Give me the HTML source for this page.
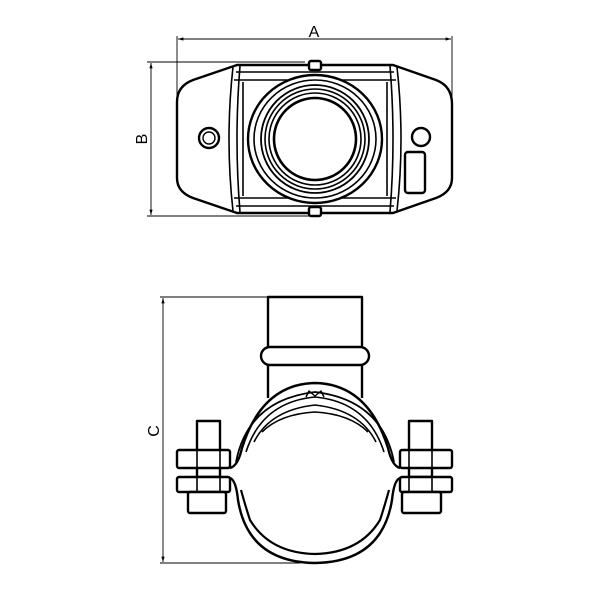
<!DOCTYPE html>
<html><head><style>html,body{margin:0;padding:0;background:#fff;}svg{display:block}</style></head>
<body>
<svg width="600" height="600" viewBox="0 0 600 600" xmlns="http://www.w3.org/2000/svg">
<defs>
<marker id="ar" viewBox="0 0 10 10" refX="10" refY="5" markerWidth="10" markerHeight="6" orient="auto-start-reverse"><path d="M0,2 L10,5 L0,8 Z" fill="#000"/></marker>
</defs>
<g fill="none" stroke="#000" stroke-width="0.9">
<line x1="177" y1="36" x2="177" y2="100"/>
<line x1="452" y1="36" x2="452" y2="100"/>
<line x1="178" y1="39" x2="451" y2="39" marker-start="url(#ar)" marker-end="url(#ar)"/>
<line x1="147" y1="62" x2="305" y2="62"/>
<line x1="147" y1="216" x2="310" y2="216"/>
<line x1="151" y1="63" x2="151" y2="215" marker-start="url(#ar)" marker-end="url(#ar)"/>
<line x1="160" y1="297" x2="268" y2="297"/>
<line x1="160" y1="563" x2="300" y2="563"/>
<line x1="163" y1="298" x2="163" y2="562" marker-start="url(#ar)" marker-end="url(#ar)"/>
</g>
<g font-family="Liberation Sans, sans-serif" font-size="16" fill="#000">
<text x="314" y="37" text-anchor="middle">A</text>
<text transform="translate(147,139) rotate(-90)" text-anchor="middle">B</text>
<text transform="translate(159,431) rotate(-90)" text-anchor="middle">C</text>
</g>

<g fill="none" stroke="#000" stroke-width="2.4" stroke-linejoin="round">
<path d="M237,65 L393,65 L436,80 Q452,86 452,104 L452,178 Q452,192 436,198 L393,213 L237,213 L193,198 Q177,192 177,178 L177,102 Q177,86 193,80 Z"/>
<path d="M233,67 Q225,139 233,211" stroke-width="1.6"/>
<path d="M240,66 Q234,139 240,212" stroke-width="1.6"/>
<path d="M397,67 Q405,139 397,211" stroke-width="1.6"/>
<path d="M390,66 Q396,139 390,212" stroke-width="1.6"/>
<line x1="236" y1="72" x2="394" y2="72" stroke-width="1.6"/>
<line x1="234" y1="80" x2="396" y2="80" stroke-width="1.6"/>
<line x1="236" y1="206" x2="394" y2="206" stroke-width="1.6"/>
<line x1="234" y1="198" x2="396" y2="198" stroke-width="1.6"/>
<line x1="243" y1="82" x2="243" y2="196" stroke-width="1.6"/>
<line x1="387" y1="82" x2="387" y2="196" stroke-width="1.6"/>
<ellipse cx="315" cy="139" rx="67" ry="64" fill="#fff"/>
<ellipse cx="315" cy="139" rx="61" ry="59" stroke-width="1.6"/>
<circle cx="315" cy="139" r="54" stroke-width="1.8"/>
<circle cx="315" cy="139" r="50" stroke-width="1.6"/>
<circle cx="315" cy="139" r="46" stroke-width="1.6"/>
<circle cx="315" cy="139" r="41" stroke-width="2.6"/>
<rect x="309" y="61" width="12" height="9" rx="2" fill="#fff"/>
<rect x="309" y="207" width="12" height="9" rx="2" fill="#fff"/>
<circle cx="209" cy="138" r="10"/>
<circle cx="209" cy="138" r="6" stroke-width="1.4"/>
<circle cx="421" cy="137" r="9"/>
<rect x="405" y="152" width="20" height="41" rx="3"/>
</g>

<g fill="none" stroke="#000" stroke-width="2.4" stroke-linejoin="round">
<path d="M268,398 L268,297 L362,297 L362,398"/>
<rect x="261" y="347" width="108" height="18" rx="9" fill="#fff"/>
<path d="M230,478 Q236,480 238,500 Q248,562 315,563 Q382,562 392,500 Q394,480 400,478"/>
<path d="M241,490 Q246,508 250,520 Q270,553 315,554 Q360,553 380,520 Q384,508 389,490" stroke-width="2.2"/>
<path d="M230,468 Q238,466 242,448 Q262,384 315,383 Q368,384 388,448 Q392,466 400,468"/>
<path d="M236,462 Q248,400 315,392 Q382,400 394,462" stroke-width="1.8"/>
<path d="M246,452 Q262,402 315,397 Q368,402 384,452" stroke-width="1.6"/>
<path d="M254,442 Q270,410 315,405 Q360,410 376,442" stroke-width="1.6"/>
<path d="M262,432 Q280,414 315,412 Q350,414 368,432" stroke-width="1.6"/>
<path d="M306,397 L309,391 L315,396 L321,391 L324,397" stroke-width="1.4"/>
<rect x="197" y="421" width="23" height="56"/>
<rect x="177" y="450" width="53" height="18" rx="2" fill="#fff"/>
<rect x="177" y="477" width="53" height="15" rx="2" fill="#fff"/>
<line x1="197" y1="450" x2="197" y2="492" stroke-width="1.6"/>
<line x1="220" y1="450" x2="220" y2="492" stroke-width="1.6"/>
<rect x="188" y="492" width="38" height="21" rx="2" fill="#fff"/>
<rect x="409" y="421" width="23" height="56"/>
<rect x="400" y="450" width="52" height="18" rx="2" fill="#fff"/>
<rect x="400" y="477" width="52" height="15" rx="2" fill="#fff"/>
<line x1="409" y1="450" x2="409" y2="492" stroke-width="1.6"/>
<line x1="432" y1="450" x2="432" y2="492" stroke-width="1.6"/>
<rect x="402" y="492" width="39" height="21" rx="2" fill="#fff"/>
</g>
</svg>
</body></html>
